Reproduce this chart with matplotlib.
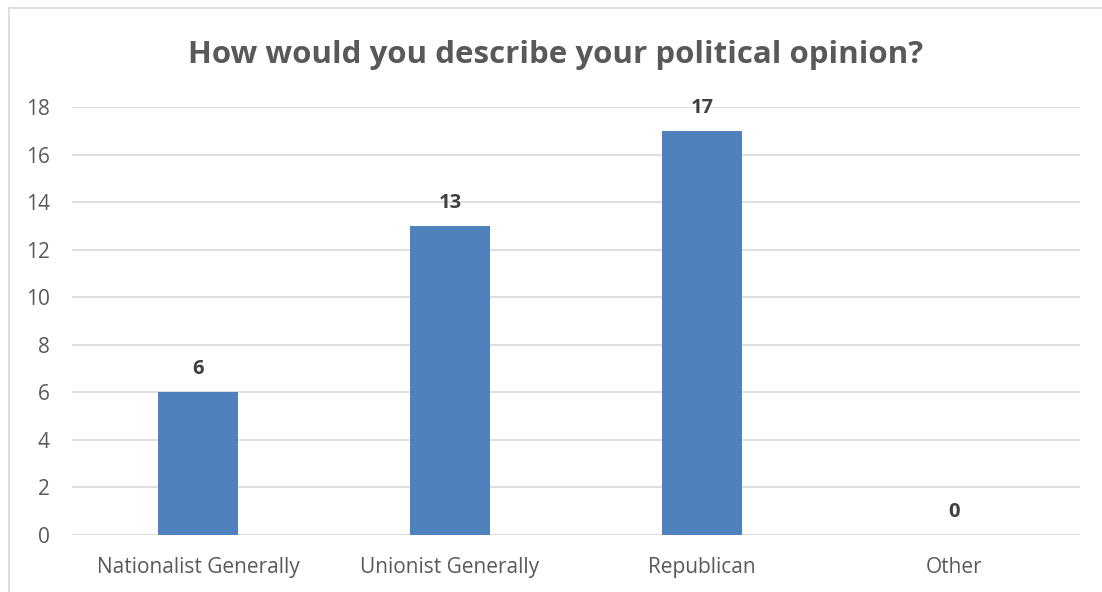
import matplotlib
matplotlib.use("Agg")
import matplotlib.pyplot as plt
from matplotlib.lines import Line2D

categories = ["Nationalist Generally", "Unionist Generally", "Republican", "Other"]
values = [6, 13, 17, 0]
yticks = [0, 2, 4, 6, 8, 10, 12, 14, 16, 18]
title = "How would you describe your political opinion?"

plt.rcParams['font.family'] = ['Open Sans', 'DejaVu Sans']

W, H = 1102, 592
fig = plt.figure(figsize=(W / 100, H / 100), dpi=100)
ax = fig.add_axes([72 / W, 1 - 535 / H, (1080 - 72) / W, (535 - 107) / H])

x = list(range(len(categories)))
ax.bar(x, values, width=0.3135, color="#4F81BD", zorder=3)
for xi, v in zip(x, values):
    ax.annotate(str(v), (xi, v), xytext=(0, 13), textcoords="offset points",
                ha="center", va="baseline", fontsize=14.5, fontweight="bold", color="#404040")

ax.set_xlim(-0.5, len(categories) - 0.5)
ax.set_ylim(0, 18)
ax.set_yticks(yticks)
ax.set_xticks(x)
ax.set_xticklabels(categories)
ax.grid(axis="y", color="#D9D9D9", linewidth=1.2, zorder=0)
ax.set_axisbelow(True)
for s in ax.spines.values():
    s.set_visible(False)
ax.tick_params(axis="both", length=0, labelsize=15, labelcolor="#595959")
ax.tick_params(axis="y", pad=16)
ax.tick_params(axis="x", pad=16)

fig.text(0.5 * (190 + 922) / W, 1 - 55 / H, title, ha="center", va="center",
         fontsize=22.5, fontweight="bold", color="#595959")

fig.add_artist(Line2D([9 / W, 9 / W], [0, 1 - 8 / H], transform=fig.transFigure,
                      color="#D9D9D9", linewidth=1.2))
fig.add_artist(Line2D([9 / W, 1], [1 - 8 / H, 1 - 8 / H], transform=fig.transFigure,
                      color="#D9D9D9", linewidth=1.2))

fig.savefig("out.png", dpi=100)
